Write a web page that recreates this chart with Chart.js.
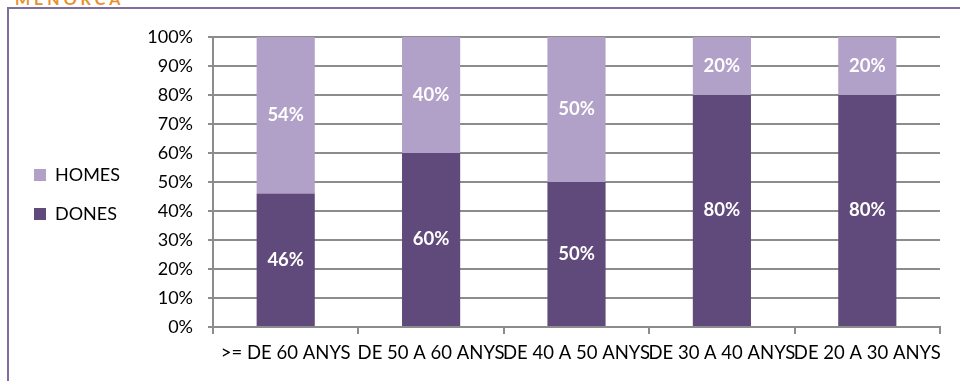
<!DOCTYPE html>
<html>
<head>
<meta charset="utf-8">
<script src="https://cdn.jsdelivr.net/npm/chart.js@4/dist/chart.umd.min.js"></script>
<style>
  html, body { margin: 0; padding: 0; background: #fff; overflow: hidden; }
  #wrap { position: relative; width: 960px; height: 381px; overflow: hidden; }
  #frame { position: absolute; left: 7px; top: 7px; width: 960px; height: 400px;
           border-left: 2px solid #7E6FA0; border-top: 2px solid #7E6FA0; box-sizing: border-box; }
  #title { position: absolute; left: 15px; top: -9px; font-family: Lato, sans-serif; font-weight: bold;
           font-size: 16px; line-height: 16px; letter-spacing: 4px; color: #E8902A; white-space: nowrap; }
  canvas { position: absolute; left: 0; top: 0; }
</style>
</head>
<body>
<div id="wrap">
  <div id="frame"></div>
  <div id="title">MENORCA</div>
  <canvas id="c" width="960" height="381"></canvas>
</div>
<script>
const categories = ['>= DE 60 ANYS', 'DE 50 A 60 ANYS', 'DE 40 A 50 ANYS', 'DE 30 A 40 ANYS', 'DE 20 A 30 ANYS'];
const dones = [46, 60, 50, 80, 80];
const homes = [54, 40, 50, 20, 20];
const yTicks = [0, 10, 20, 30, 40, 50, 60, 70, 80, 90, 100];

const FONT = 'Lato, "DejaVu Sans", sans-serif';
const GRID = '#8c8c8c';

const valueLabels = {
  id: 'valueLabels',
  afterDatasetsDraw(chart) {
    const ctx = chart.ctx;
    ctx.save();
    ctx.font = 'bold 18.5px ' + FONT;
    ctx.fillStyle = '#ffffff';
    ctx.textAlign = 'center';
    ctx.textBaseline = 'middle';
    chart.data.datasets.forEach((ds, di) => {
      const meta = chart.getDatasetMeta(di);
      meta.data.forEach((el, i) => {
        const p = el.getProps(['x', 'y', 'base'], true);
        ctx.fillText(ds.data[i] + '%', p.x, (p.y + p.base) / 2);
      });
    });
    ctx.restore();
  }
};

new Chart(document.getElementById('c'), {
  type: 'bar',
  data: {
    labels: categories,
    datasets: [
      { label: 'DONES', data: dones, backgroundColor: '#604A7B', borderWidth: 0,
        categoryPercentage: 1, barPercentage: 0.4 },
      { label: 'HOMES', data: homes, backgroundColor: '#B1A0C7', borderWidth: 0,
        categoryPercentage: 1, barPercentage: 0.4 }
    ]
  },
  options: {
    responsive: false,
    animation: false,
    devicePixelRatio: 1,
    layout: { padding: { left: 13, top: 8, right: 20, bottom: 0 } },
    plugins: {
      tooltip: { enabled: false },
      legend: {
        position: 'left',
        reverse: true,
        labels: {
          boxWidth: 12, boxHeight: 12, padding: 21,
          color: '#000', font: { family: FONT, size: 18 }
        }
      }
    },
    scales: {
      x: {
        stacked: true,
        grid: { display: true, drawOnChartArea: false, drawTicks: true, tickLength: 7,
                color: GRID, lineWidth: 2, offset: true },
        border: { display: true, color: GRID, width: 2 },
        ticks: { color: '#000', font: { family: FONT, size: 18.5 }, padding: 8,
                 autoSkip: false, maxRotation: 0, minRotation: 0 },
        afterFit(scale) { scale.height = 54; }
      },
      y: {
        stacked: true,
        min: 0, max: 100,
        afterBuildTicks(scale) { scale.ticks = yTicks.map(v => ({ value: v })); },
        grid: { color: GRID, lineWidth: 2, drawTicks: true, tickLength: 5 },
        border: { display: true, color: GRID, width: 2 },
        ticks: { color: '#000', font: { family: FONT, size: 18 }, padding: 15,
                 callback: v => v + '%' },
        afterFit(scale) {
          const lw = scale.chart.legend ? scale.chart.legend.width : 0;
          scale.width = 213 - 13 - lw;
          scale.paddingTop = 37;
        }
      }
    }
  },
  plugins: [valueLabels]
});
</script>
</body>
</html>
